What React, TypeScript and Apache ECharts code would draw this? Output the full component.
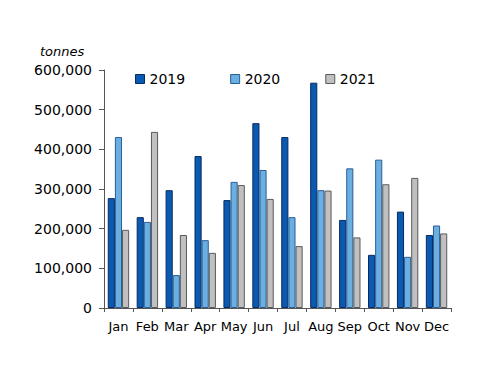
import React, { useEffect, useRef } from "react";
import * as echarts from "echarts";

const months = ["Jan", "Feb", "Mar", "Apr", "May", "Jun", "Jul", "Aug", "Sep", "Oct", "Nov", "Dec"];
const y2019 = [277000, 229000, 297000, 383000, 272000, 466000, 431000, 568000, 222000, 134000, 243000, 184000];
const y2020 = [431000, 217000, 83000, 171000, 318000, 348000, 229000, 297000, 352000, 374000, 129000, 208000];
const y2021 = [197000, 444000, 184000, 139000, 310000, 275000, 156000, 296000, 178000, 312000, 328000, 188000];

const seriesNames = ["2019", "2020", "2021"];
const fills = ["#0a5ab2", "#6aaee2", "#c0c0c0"];
const borders = ["#0b2a5e", "#2a5f95", "#5a5a5a"];

const FONT = "DejaVu Sans";

export default function App() {
  const ref = useRef<HTMLDivElement>(null);
  useEffect(() => {
    if (!ref.current) return;
    const chart = echarts.init(ref.current, undefined, { renderer: "svg" });
    const data = [y2019, y2020, y2021];
    chart.setOption({
      animation: false,
      backgroundColor: "#ffffff",
      textStyle: { fontFamily: FONT },
      grid: { left: 104, right: 49, top: 70, bottom: 78 },
      legend: {
        left: 135,
        top: 72,
        padding: 0,
        itemWidth: 9,
        itemHeight: 9,
        itemGap: 45,
        icon: "rect",
        textStyle: { fontFamily: FONT, fontSize: 14, color: "#000" },
        data: seriesNames.map((n, i) => ({
          name: n,
          itemStyle: { color: fills[i], borderColor: borders[i], borderWidth: 1 },
        })),
      },
      graphic: [
        {
          type: "text",
          left: 40,
          top: 45,
          style: { text: "tonnes", font: `italic 13px "${FONT}"`, fill: "#000" },
        },
      ],
      xAxis: {
        type: "category",
        data: months,
        axisLine: { lineStyle: { color: "#555", width: 1 } },
        axisTick: { show: true, length: 4, lineStyle: { color: "#555" } },
        axisLabel: { fontFamily: FONT, fontSize: 13, color: "#000", margin: 12, interval: 0, hideOverlap: false },
      },
      yAxis: {
        type: "value",
        min: 0,
        max: 600000,
        interval: 100000,
        splitLine: { show: false },
        axisLine: { show: true, lineStyle: { color: "#555", width: 1 } },
        axisTick: { show: true, length: 5, lineStyle: { color: "#555" } },
        axisLabel: {
          fontFamily: FONT,
          fontSize: 14,
          color: "#000",
          margin: 12,
          formatter: (v: number) => v.toLocaleString("en-US"),
        },
      },
      series: seriesNames.map((n, i) => ({
        name: n,
        type: "bar",
        data: data[i],
        barGap: "0%",
        barCategoryGap: "26%",
        itemStyle: { color: fills[i], borderColor: borders[i], borderWidth: 1 },
      })),
    });
    return () => chart.dispose();
  }, []);
  return <div ref={ref} style={{ width: 500, height: 386, margin: -8 }} />;
}
